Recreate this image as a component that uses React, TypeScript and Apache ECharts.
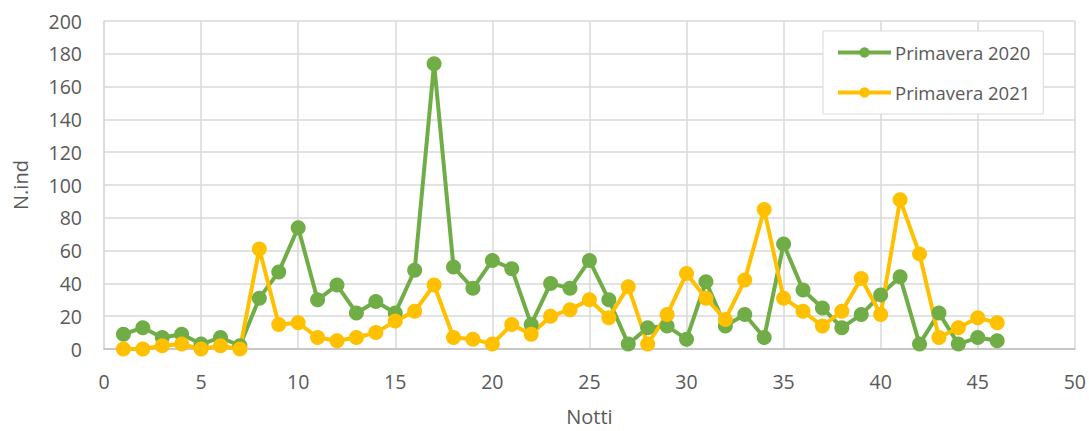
import React, { useEffect, useRef } from "react";
import * as echarts from "echarts";

const nights: number[] = [
  1, 2, 3, 4, 5, 6, 7, 8, 9, 10, 11, 12, 13, 14, 15, 16, 17, 18, 19, 20, 21, 22, 23,
  24, 25, 26, 27, 28, 29, 30, 31, 32, 33, 34, 35, 36, 37, 38, 39, 40, 41, 42, 43, 44, 45, 46,
];
const spring2020: number[] = [
  9, 13, 7, 9, 3, 7, 2, 31, 47, 74, 30, 39, 22, 29, 22, 48, 174, 50, 37, 54, 49, 15, 40,
  37, 54, 30, 3, 13, 14, 6, 41, 14, 21, 7, 64, 36, 25, 13, 21, 33, 44, 3, 22, 3, 7, 5,
];
const spring2021: number[] = [
  0, 0, 2, 3, 0, 2, 0, 61, 15, 16, 7, 5, 7, 10, 17, 23, 39, 7, 6, 3, 15, 9, 20,
  24, 30, 19, 38, 3, 21, 46, 31, 18, 42, 85, 31, 23, 14, 23, 43, 21, 91, 58, 7, 13, 19, 16,
];
const seriesNames: string[] = ["Primavera 2020", "Primavera 2021"];
const seriesColors: string[] = ["#70AD47", "#FFC000"];

const FONT = "'Open Sans', 'Noto Sans', sans-serif";
const TEXT = "#595959";

export default function App() {
  const ref = useRef<HTMLDivElement>(null);
  useEffect(() => {
    if (!ref.current) return;
    const chart = echarts.init(ref.current, undefined, { renderer: "svg" });
    const mk = (name: string, color: string, vals: number[]) => ({
      name,
      type: "line",
      data: nights.map((n, i) => [n, vals[i]]),
      symbol: "circle",
      symbolSize: 15,
      lineStyle: { color, width: 4 },
      itemStyle: { color },
      z: 2,
    });
    chart.setOption({
      animation: false,
      textStyle: { fontFamily: FONT },
      grid: { left: 104, right: 14, top: 21, bottom: 81, containLabel: false },
      legend: {
        orient: "vertical",
        left: 823,
        top: 31,
        padding: [12, 13, 12, 13],
        itemWidth: 53,
        itemHeight: 13,
        itemGap: 21,
        backgroundColor: "#ffffff",
        borderColor: "#d9d9d9",
        borderWidth: 1,
        lineStyle: { width: 4 },
        textStyle: { color: TEXT, fontSize: 18.5, fontFamily: FONT, padding: [0, 0, 0, -1] },
        data: seriesNames,
      },
      xAxis: {
        type: "value",
        min: 0,
        max: 50,
        interval: 5,
        name: "Notti",
        nameLocation: "middle",
        nameGap: 57,
        nameTextStyle: { color: TEXT, fontSize: 20, fontFamily: FONT },
        axisLine: { show: true, lineStyle: { color: "#bfbfbf", width: 1.5 } },
        axisTick: { show: false },
        axisLabel: { color: TEXT, fontSize: 19.5, margin: 22, fontFamily: FONT },
        splitLine: { show: true, lineStyle: { color: "#d9d9d9", width: 1.5 } },
      },
      yAxis: {
        type: "value",
        min: 0,
        max: 200,
        interval: 20,
        name: "N.ind",
        nameLocation: "middle",
        nameRotate: 90,
        nameGap: 74,
        nameTextStyle: { color: TEXT, fontSize: 20, fontFamily: FONT },
        axisLine: { show: true, lineStyle: { color: "#d9d9d9", width: 1.5 } },
        axisTick: { show: false },
        axisLabel: { color: TEXT, fontSize: 19.5, margin: 22, fontFamily: FONT },
        splitLine: { show: true, lineStyle: { color: "#d9d9d9", width: 1.5 } },
      },
      series: [
        mk(seriesNames[0], seriesColors[0], spring2020),
        mk(seriesNames[1], seriesColors[1], spring2021),
      ],
    });
    return () => chart.dispose();
  }, []);
  return <div ref={ref} style={{ width: 1089, height: 431, position: "absolute", left: 0, top: 0 }} />;
}
